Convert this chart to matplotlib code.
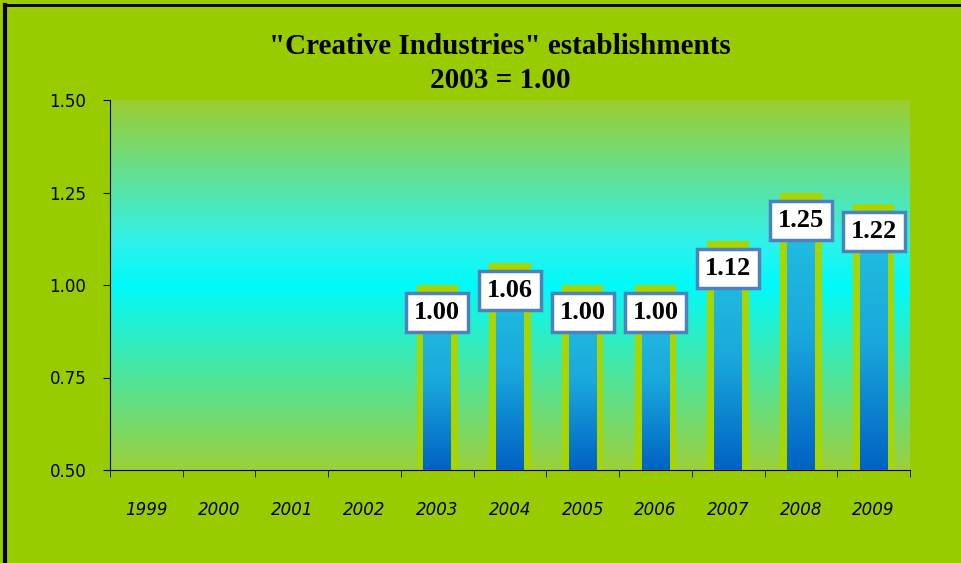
import numpy as np
import matplotlib
matplotlib.use('Agg')
import matplotlib.pyplot as plt
from matplotlib.colors import LinearSegmentedColormap

years = ['1999', '2000', '2001', '2002', '2003', '2004', '2005', '2006', '2007', '2008', '2009']
values = [np.nan, np.nan, np.nan, np.nan, 1.00, 1.06, 1.00, 1.00, 1.12, 1.25, 1.22]
labels = ['', '', '', '', '1.00', '1.06', '1.00', '1.00', '1.12', '1.25', '1.22']
yticks = [0.50, 0.75, 1.00, 1.25, 1.50]

fig = plt.figure(figsize=(9.61, 5.63), dpi=100)
fig.patch.set_facecolor('#99cc00')
ax = fig.add_axes([110/961, 1-470/563, 800/961, 370/563])
ax.set_facecolor('#99cc00')

x = np.arange(len(years))
ax.set_xlim(-0.5, len(years) - 0.5)
ax.set_ylim(0.5, 1.5)

# plot area background: green -> cyan -> green
bg = LinearSegmentedColormap.from_list('bg', [(0, '#9ccf3c'), (0.5, '#00fafa'), (0.62, '#30f2ea'), (1, '#9ccd30')])
grad = np.linspace(0, 1, 256).reshape(-1, 1)
ax.imshow(grad, cmap=bg, aspect='auto', extent=(-0.5, len(years) - 0.5, 0.5, 1.5),
          origin='lower', zorder=0)

# bars
vals = np.nan_to_num(np.array(values), nan=0.5)
ax.bar(x, vals - 0.5, bottom=0.5, width=0.57, color='#a8d400', zorder=2)
inner = LinearSegmentedColormap.from_list('inner', ['#0062c4', '#1aa8dc', '#22c4e0'])
for xi, v in zip(x, values):
    if np.isnan(v):
        continue
    top = v - 0.02
    b = ax.bar(xi, top - 0.5, bottom=0.5, width=0.38, color='none', zorder=3)[0]
    im = ax.imshow(grad, cmap=inner, aspect='auto', origin='lower',
                   extent=(xi - 0.19, xi + 0.19, 0.5, top), zorder=3)
    im.set_clip_path(b)
    ax.text(xi, v - 0.075, labels[xi], ha='center', va='center', zorder=5,
            family='Liberation Serif', fontweight='bold', fontsize=19,
            bbox=dict(boxstyle='square,pad=0.3', facecolor='white',
                      edgecolor='#4f81bd', linewidth=2.5))

ax.set_xlim(-0.5, len(years) - 0.5)
ax.set_ylim(0.5, 1.5)

for s in ['top', 'right']:
    ax.spines[s].set_visible(False)
ax.spines['left'].set_color('black')
ax.spines['bottom'].set_color('black')

ax.set_yticks(yticks)
ax.set_yticklabels(['%.2f' % t for t in yticks], family='DejaVu Sans', fontsize=12)
ax.set_xticks(x)
ax.set_xticklabels(years, family='DejaVu Sans', style='italic', fontsize=12)
ax.set_xticks(np.arange(-0.5, len(years) + 0.5, 1), minor=True)
ax.tick_params(axis='x', which='major', length=0, pad=22)
ax.tick_params(axis='x', which='minor', length=5, direction='out')
ax.tick_params(axis='y', length=5, direction='out', pad=12)

fig.text(500/961, 1-47/563, '"Creative Industries" establishments', ha='center', va='center',
         family='Liberation Serif', fontweight='bold', fontsize=21)
fig.text(500/961, 1-80/563, '2003 = 1.00', ha='center', va='center',
         family='Liberation Serif', fontweight='bold', fontsize=21)

# black frame on top and left edges
fig.add_artist(plt.Line2D([5/961, 5/961], [0, 1-5/563], color='black', lw=3))
fig.add_artist(plt.Line2D([5/961, 1], [1-5/563, 1-5/563], color='black', lw=2))

fig.savefig('out.png', dpi=100, facecolor=fig.get_facecolor())
